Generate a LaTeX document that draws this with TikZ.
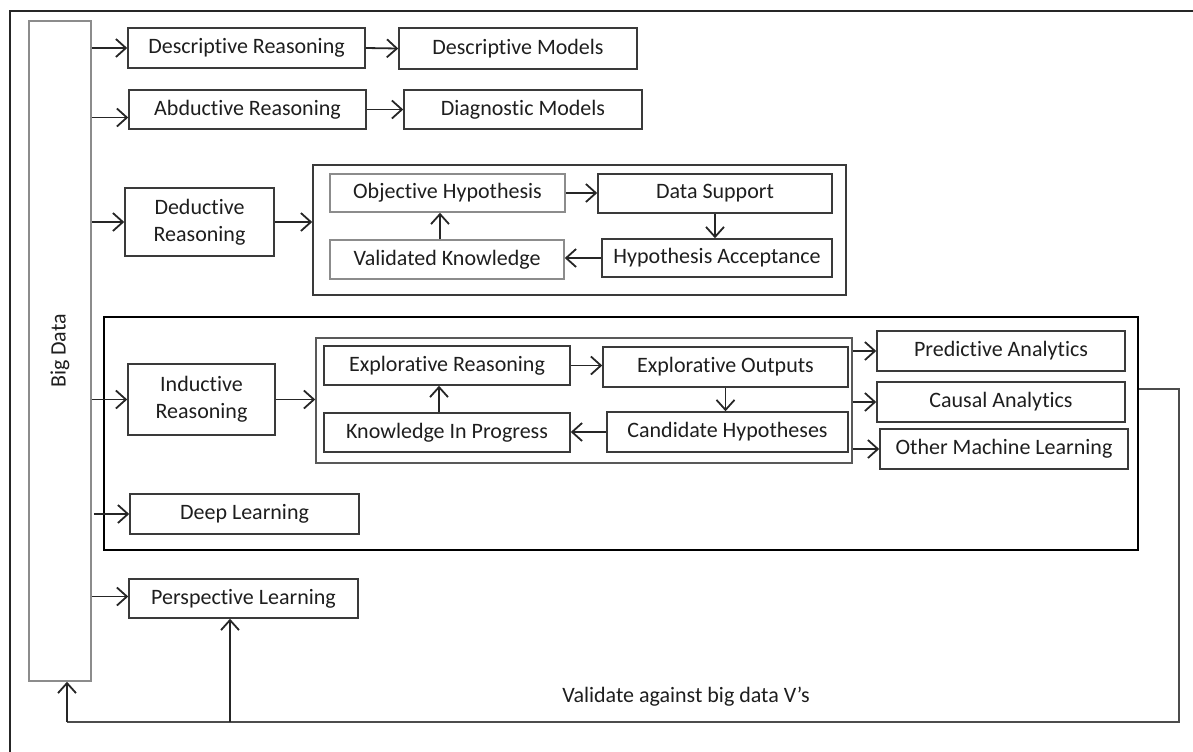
\documentclass[tikz,border=0pt]{standalone}
\usepackage{fontspec}
\setmainfont{Carlito}[Ligatures={NoCommon}]
\usetikzlibrary{arrows.meta}
\definecolor{edge}{HTML}{3A3A3A}
\definecolor{lightedge}{HTML}{8C8C8C}
\definecolor{txt}{HTML}{1E1E1E}
\newcommand\mybox[7][]{\node[box,#1,minimum width={(#5-#3)*0.5pt},minimum height={(#6-#4)*0.5pt}] (#2) at ({(#3+#5)/2},{(#4+#6)/2}) {#7};}
\begin{document}
\begin{tikzpicture}[x=0.5pt,y=-0.5pt,
  box/.style={draw=edge,line width=0.75pt,inner sep=0pt,align=center,text=txt,font=\fontsize{11}{13.5}\selectfont},
  arr/.style={draw=black!85,line width=0.9pt,-{Straight Barb[length=5pt,width=9pt,line width=0.9pt]}},
  line/.style={draw=black!70,line width=0.9pt}]
\useasboundingbox (0,0) rectangle (1193,751);
% outer frame (only top and left edges visible)
\coordinate (fr1) at (10,1200);
\coordinate (fr2) at (10,11);
\coordinate (fr3) at (1300,11);
\draw[line width=1pt,black!85] (fr1) -- (fr2) -- (fr3);
% Big data
\mybox[draw=lightedge]{bd}{29}{21}{91}{681}{}
\node[rotate=90,text=txt,font=\fontsize{11}{13.5}\selectfont] (bdl) at (bd.center) {Big Data};
% descriptive / abductive
\mybox{descr}{128}{28}{365}{68}{Descriptive Reasoning}
\mybox{descm}{399}{28}{637}{69}{Descriptive Models}
\mybox{abd}{129}{90}{366}{129}{Abductive Reasoning}
\mybox{diag}{404}{90}{642}{129}{Diagnostic Models}
% deductive
\mybox{ded}{125}{188}{274}{256}{Deductive\\Reasoning}
\mybox{dedbox}{313}{165}{846}{295}{}
\mybox[draw=lightedge]{oh}{330}{174}{565}{212}{Objective Hypothesis}
\mybox{ds}{598}{174}{832}{213}{Data Support}
\mybox[draw=lightedge]{vk}{330}{240}{564}{279}{Validated Knowledge}
\mybox{ha}{602}{239}{832}{277}{Hypothesis Acceptance}
% inductive
\mybox[draw=black,line width=1.3pt]{indbox}{104}{317}{1138}{550}{}
\mybox{ind}{128}{364}{275}{435}{Inductive\\Reasoning}
\mybox[draw=black!65]{inbox}{316}{338}{852}{463}{}
\mybox{er}{324}{346}{570}{385}{Explorative Reasoning}
\mybox{eo}{603}{347}{848}{387}{Explorative Outputs}
\mybox{kip}{324}{413}{570}{452}{Knowledge In Progress}
\mybox{ch}{607}{412}{848}{452}{Candidate Hypotheses}
\mybox{pa}{877}{331}{1125}{371}{Predictive Analytics}
\mybox{ca}{877}{382}{1125}{422}{Causal Analytics}
\mybox{oml}{880}{429}{1128}{469}{Other Machine Learning}
\mybox{dl}{130}{494}{359}{534}{Deep Learning}
% perspective
\mybox{pl}{129}{579}{358}{618}{Perspective Learning}
% connectors from big data
\draw[arr] (descr.west -| bd.east) -- (descr.west);
\draw[arr] ([yshift=-4pt]abd.west -| bd.east) -- ([yshift=-4pt]abd.west);
\draw[arr] (ded.west -| bd.east) -- (ded.west);
\draw[arr] (ind.west -| bd.east) -- (ind.west);
\draw[arr] ([xshift=1pt]dl.west -| bd.east) -- (dl.west);
\draw[arr] ([yshift=1pt]pl.west -| bd.east) -- ([yshift=1pt]pl.west);
\draw[arr] (descr.east) -- (descm.west);
\draw[arr] (abd.east) -- (diag.west);
\draw[arr] (ded.east) -- (ded.east -| dedbox.west);
% deductive cycle
\coordinate (xvk) at (440,0);
\draw[arr] (oh.east) -- (oh.east -| ds.west);
\draw[arr] (ds.south) -- (ds.south |- ha.north);
\draw[arr] (ha.west) -- (ha.west -| vk.east);
\draw[arr] (vk.north -| xvk) -- (oh.south -| xvk);
% inductive cycle
\coordinate (xkp) at (439,0);
\draw[arr] (ind.east) -- (ind.east -| inbox.west);
\draw[arr] (er.east) -- (er.east -| eo.west);
\draw[arr] (eo.south) -- (eo.south |- ch.north);
\draw[arr] (ch.west) -- (ch.west -| kip.east);
\draw[arr] (kip.north -| xkp) -- (er.south -| xkp);
\draw[arr] (pa.west -| inbox.east) -- (pa.west);
\draw[arr] (ca.west -| inbox.east) -- (ca.west);
\draw[arr] (oml.west -| inbox.east) -- (oml.west);
% feedback loop
\coordinate (r1) at (1179,389);
\coordinate (r2) at (1179,722);
\coordinate (b1) at (67,722);
\coordinate (p1) at (230,722);
\draw[line] (indbox.east |- r1) -- (r1) -- (r2) -- (b1);
\draw[arr] (b1) -- (b1 |- bd.south);
\draw[arr] (p1) -- (p1 |- pl.south);
\node[text=txt,font=\fontsize{11}{13.5}\selectfont] (val) at (686,697) {Validate against big data V’s};
\end{tikzpicture}
\end{document}
